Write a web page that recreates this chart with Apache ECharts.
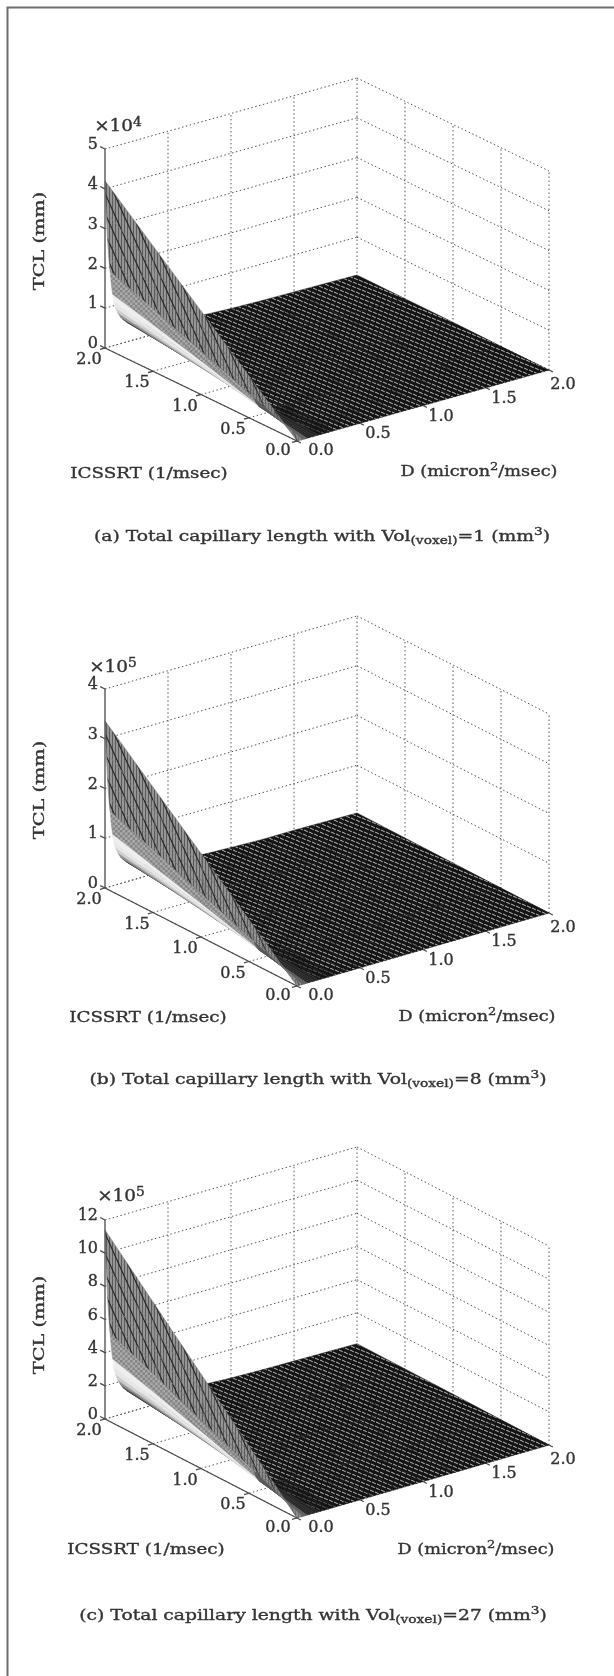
<!DOCTYPE html>
<html>
<head>
<meta charset="utf-8">
<style>html,body{margin:0;padding:0;background:#fff}#main{width:614px;height:1676px}#main canvas{filter:blur(0.55px)}</style>
<script src="https://cdn.jsdelivr.net/npm/echarts@6/dist/echarts.min.js"></script>
</head>
<body>
<div id="main"></div>
<script>
// axis ticks
var ICSSRT_TICKS = [0, 0.5, 1, 1.5, 2];
var D_TICKS = [0, 0.5, 1, 1.5, 2];
var Z_TICKS_A = [0, 1, 2, 3, 4, 5];
var Z_TICKS_B = [0, 1, 2, 3, 4];
var Z_TICKS_C = [0, 2, 4, 6, 8, 10, 12];

// surface grid
var ICSSRT_GRID = [0, 0.5, 1, 1.5, 2];
var D_GRID = [0, .01, .02, .03, .04, .05, .06, .07, .08, .1, .12, .14, .17, .2, .25, .3, .4, .5, .6, .8, 1, 1.25, 1.5, 2];

// TCL, one row per D_GRID value, one column per ICSSRT_GRID value
var TCL_A = [ // x 10^4 mm
    [0, 1.05, 2.1, 3.15, 4.2], [0, .85, 1.7, 2.55, 3.4], [0, .68, 1.35, 2.03, 2.7], [0, .56, 1.13, 1.69, 2.25],
    [0, .47, .95, 1.42, 1.9], [0, .38, .78, 1.16, 1.55], [0, .3, .65, .98, 1.3], [0, .25, .55, .83, 1.1],
    [0, .21, .47, .71, .95], [0, .17, .4, .6, .8], [0, .13, .33, .51, .68], [0, .11, .29, .45, .6],
    [0, .09, .24, .37, .5], [0, .08, .21, .32, .43], [0, .07, .17, .27, .36], [0, .06, .15, .23, .31],
    [0, .05, .12, .18, .24], [0, .04, .1, .15, .2], [0, .03, .08, .13, .17], [0, .03, .06, .1, .13],
    [0, .02, .05, .08, .1], [0, .02, .04, .06, .08], [0, .02, .03, .05, .07], [0, .01, .03, .04, .05]
];
var TCL_B = [ // x 10^5 mm
    [0, .84, 1.68, 2.52, 3.36], [0, .68, 1.36, 2.04, 2.72], [0, .54, 1.08, 1.62, 2.16], [0, .45, .9, 1.35, 1.8],
    [0, .38, .76, 1.14, 1.52], [0, .3, .62, .93, 1.24], [0, .24, .52, .78, 1.04], [0, .2, .44, .66, .88],
    [0, .17, .38, .57, .76], [0, .14, .32, .48, .64], [0, .1, .26, .41, .54], [0, .09, .23, .36, .48],
    [0, .07, .19, .3, .4], [0, .06, .17, .26, .34], [0, .06, .14, .22, .29], [0, .05, .12, .18, .25],
    [0, .04, .1, .14, .19], [0, .03, .08, .12, .16], [0, .02, .06, .1, .14], [0, .02, .05, .08, .1],
    [0, .02, .04, .06, .08], [0, .02, .03, .05, .06], [0, .02, .02, .04, .06], [0, .01, .02, .03, .04]
];
var TCL_C = [ // x 10^5 mm
    [0, 2.85, 5.7, 8.55, 11.4], [0, 2.3, 4.6, 6.9, 9.2], [0, 1.84, 3.65, 5.5, 7.3], [0, 1.5, 3.05, 4.55, 6.1],
    [0, 1.27, 2.55, 3.85, 5.1], [0, 1.03, 2.1, 3.13, 4.2], [0, .81, 1.75, 2.65, 3.5], [0, .68, 1.48, 2.24, 3],
    [0, .57, 1.27, 1.92, 2.55], [0, .46, 1.08, 1.62, 2.15], [0, .35, .89, 1.38, 1.85], [0, .3, .78, 1.22, 1.6],
    [0, .24, .65, 1, 1.35], [0, .22, .57, .86, 1.16], [0, .19, .46, .73, .97], [0, .16, .4, .62, .84],
    [0, .14, .32, .49, .65], [0, .11, .27, .4, .54], [0, .08, .22, .35, .46], [0, .08, .16, .27, .35],
    [0, .05, .14, .22, .27], [0, .05, .11, .16, .22], [0, .05, .08, .14, .19], [0, .03, .08, .11, .14]
];

var FONT = '"DejaVu Serif", serif';
var INK = '#333';
var HEAVY = 0.35; // stroke on the glyphs, source text is heavier than the regular face

// layout of each panel: front corner, axis vectors in px, text anchors
var panels = [
    {front: [297, 441], dVec: [252, -71], sVec: [-192, -93], zH: 199, zTicks: Z_TICKS_A, tcl: TCL_A, pow: '4',
     exp: [118, 127], tclY: 241, sTitle: [149, 474], dTitle: [479, 472], cap: [322, 537], capText: '(a) Total capillary length with Vol{sub|(voxel)}=1 (mm{sup|3})'},
    {front: [297, 986], dVec: [252, -73], sVec: [-192, -98], zH: 199, zTicks: Z_TICKS_B, tcl: TCL_B, pow: '5',
     exp: [113, 668], tclY: 790, sTitle: [148, 1018], dTitle: [477, 1017], cap: [318, 1080], capText: '(b) Total capillary length with Vol{sub|(voxel)}=8 (mm{sup|3})'},
    {front: [297, 1518], dVec: [252, -73], sVec: [-192, -99], zH: 199, zTicks: Z_TICKS_C, tcl: TCL_C, pow: '5',
     exp: [121, 1197], tclY: 1325, sTitle: [146, 1550], dTitle: [476, 1550], cap: [313, 1616], capText: '(c) Total capillary length with Vol{sub|(voxel)}=27 (mm{sup|3})'}
];

function tile(w, h, draw) {
    var c = document.createElement('canvas');
    c.width = w; c.height = h;
    draw(c.getContext('2d'), w, h);
    return {image: c, repeat: 'repeat'};
}
function seg(ctx, x1, y1, x2, y2, color, width) {
    ctx.strokeStyle = color; ctx.lineWidth = width;
    ctx.beginPath(); ctx.moveTo(x1, y1); ctx.lineTo(x2, y2); ctx.stroke();
}
var ridgeFill = tile(9, 20, function (ctx, w, h) {
    ctx.fillStyle = '#9c9c9c'; ctx.fillRect(0, 0, w, h);
    for (var x = 1.5; x < w; x += 3) seg(ctx, x, 0, x, h, '#5a5a5a', 1.2);
    for (var k = -1; k <= 1; k++) seg(ctx, k * w, 0, k * w + w, h, '#2a2a2a', 1.3);
});
var checkFill = tile(5, 5, function (ctx, w, h) {
    ctx.fillStyle = '#ababab'; ctx.fillRect(0, 0, w, h);
    ctx.fillStyle = '#848484'; ctx.fillRect(0, 0, 2.5, 2.5); ctx.fillRect(2.5, 2.5, 2.5, 2.5);
});
// mesh of the flat sheet: one short light dash per grid cell, on the cell lattice
function sheetTile(dash) {
    return tile(22, 22, function (ctx, w, h) {
        ctx.fillStyle = '#141414'; ctx.fillRect(0, 0, w, h);
        for (var a = -10; a <= 10; a++) {
            for (var b = -10; b <= 10; b++) {
                var x = a * 6 + b * 5, y = -a * 2 + b * 2;
                if (x > -6 && x < w && y > -4 && y < h) seg(ctx, x, y, x + 3.8, y + 1.8, dash, 1);
            }
        }
    });
}
var sheetFill = sheetTile('#bcbcbc');
var sheetDark = sheetTile('#5e5e5e');

// fill per surface cell: the light band under the ridge runs out before the front corner
function cellFill(di, si) {
    var d = D_GRID[di];
    if (d < .04) return [ridgeFill, '#777'];
    if (si === 0 && d < .08) return ['#5a5a5a', '#5a5a5a'];
    if (si === 0 && d < .17) return ['#262626', '#262626'];
    if (d < .06) return [checkFill, '#959595'];
    if (d < .07) return ['#eeeeee', '#eeeeee'];
    if (d < .08) return ['#e6e6e6', '#e6e6e6'];
    if (d < .1) return ['#cccccc', '#cccccc'];
    if (d < .12) return ['#949494', '#949494'];
    if (d < .14) return ['#5e5e5e', '#5e5e5e'];
    if (d < .17) return ['#3a3a3a', '#3a3a3a'];
    if (d < .3 && si < 1) return [sheetDark, '#141414'];
    return [sheetFill, '#141414'];
}

function makeProject(p) {
    var zMax = p.zTicks[p.zTicks.length - 1];
    return function (d, s, z) {
        return [d / 2 * p.dVec[0] + s / 2 * p.sVec[0],
                -(d / 2 * p.dVec[1] + s / 2 * p.sVec[1]) + z / zMax * p.zH];
    };
}

function lineItem(a, b, kind) { return [a[0], a[1], b[0], b[1], kind]; }

var grids = [], xAxes = [], yAxes = [], series = [], graphics = [];

panels.forEach(function (p, idx) {
    var proj = makeProject(p);
    var zMax = p.zTicks[p.zTicks.length - 1];
    grids.push({left: p.front[0] - 210, top: p.front[1] - 380, width: 480, height: 395});
    xAxes.push({gridIndex: idx, type: 'value', min: -210, max: 270, show: false});
    yAxes.push({gridIndex: idx, type: 'value', min: -15, max: 380, show: false});

    // walls and floor
    var dots = [];
    p.zTicks.forEach(function (z) {
        dots.push(lineItem(proj(0, 2, z), proj(2, 2, z), 0));
        dots.push(lineItem(proj(2, 2, z), proj(2, 0, z), 0));
    });
    D_TICKS.forEach(function (d) {
        if (d > 0) dots.push(lineItem(proj(d, 2, 0), proj(d, 2, zMax), 0));
        dots.push(lineItem(proj(d, 0, 0), proj(d, 2, 0), 0));
    });
    ICSSRT_TICKS.forEach(function (s) {
        if (s < 2) dots.push(lineItem(proj(2, s, 0), proj(2, s, zMax), 0));
        dots.push(lineItem(proj(0, s, 0), proj(2, s, 0), 0));
    });
    series.push({
        type: 'custom', xAxisIndex: idx, yAxisIndex: idx, z: 1, silent: true, data: dots,
        renderItem: renderSegment
    });

    // surface, far cells first
    var cells = [];
    for (var di = D_GRID.length - 2; di >= 0; di--) {
        for (var si = ICSSRT_GRID.length - 2; si >= 0; si--) {
            var a = proj(D_GRID[di], ICSSRT_GRID[si], p.tcl[di][si]);
            var b = proj(D_GRID[di], ICSSRT_GRID[si + 1], p.tcl[di][si + 1]);
            var c = proj(D_GRID[di + 1], ICSSRT_GRID[si + 1], p.tcl[di + 1][si + 1]);
            var e = proj(D_GRID[di + 1], ICSSRT_GRID[si], p.tcl[di + 1][si]);
            cells.push([a[0], a[1], b[0], b[1], c[0], c[1], e[0], e[1], di, si]);
        }
    }
    series.push({
        type: 'custom', xAxisIndex: idx, yAxisIndex: idx, z: 2, silent: true, data: cells,
        renderItem: function (params, api) {
            var pts = [];
            for (var i = 0; i < 4; i++) pts.push(api.coord([api.value(i * 2), api.value(i * 2 + 1)]));
            var f = cellFill(api.value(8), api.value(9));
            return {type: 'polygon', shape: {points: pts}, style: {fill: f[0], stroke: f[1], lineWidth: 0.5}};
        }
    });

    // axes and ticks
    var axes = [lineItem(proj(0, 2, 0), proj(0, 2, zMax), 1), lineItem(proj(0, 2, 0), proj(0, 0, 0), 1)];
    p.zTicks.forEach(function (z) { axes.push(lineItem(proj(0, 2, z), proj(0, 2.05, z), 1)); });
    ICSSRT_TICKS.forEach(function (s) { axes.push(lineItem(proj(0, s, 0), proj(-.04, s, 0), 1)); });
    D_TICKS.forEach(function (d) { axes.push(lineItem(proj(d, 0, 0), proj(d, -.04, 0), 1)); });
    series.push({
        type: 'custom', xAxisIndex: idx, yAxisIndex: idx, z: 3, silent: true, data: axes,
        renderItem: renderSegment
    });

    // tick labels
    var labels = [];
    p.zTicks.forEach(function (z) { var q = proj(0, 2, z); labels.push([q[0], q[1], -7, -4, String(z), 'right']); });
    ICSSRT_TICKS.forEach(function (s) { var q = proj(0, s, 0); labels.push([q[0], q[1], s === 0 ? -19 : -16, s === 0 ? 10 : 12, s.toFixed(1), 'center']); });
    D_TICKS.forEach(function (d) { var q = proj(d, 0, 0); labels.push([q[0], q[1], d === 0 ? 24 : (d === 2 ? 14 : 18), d === 2 ? 15 : (d === 0 ? 10 : 11), d.toFixed(1), 'center']); });
    series.push({
        type: 'custom', xAxisIndex: idx, yAxisIndex: idx, z: 4, silent: true, data: labels,
        dimensions: ['x', 'y', 'dx', 'dy', {name: 'text', type: 'ordinal'}, {name: 'align', type: 'ordinal'}],
        renderItem: function (params, api) {
            var item = labels[params.dataIndex];
            var at = api.coord([item[0], item[1]]);
            return {type: 'text', x: at[0] + item[2], y: at[1] + item[3],
                style: {text: item[4], font: '16px ' + FONT, fill: INK, stroke: INK, lineWidth: HEAVY, align: item[5], verticalAlign: 'middle'}};
        }
    });

    // free text; the source font is an extended face, so stretch sideways
    graphics.push(textEl(p.exp, '×10{sup|' + p.pow + '}', 16, 1.15));
    graphics.push({type: 'text', x: 40, y: p.tclY, rotation: Math.PI / 2, scaleX: 1.29,
        style: {text: 'TCL (mm)', font: '15px ' + FONT, fill: INK, stroke: INK, lineWidth: HEAVY, align: 'center', verticalAlign: 'middle'}});
    graphics.push(textEl(p.sTitle, 'ICSSRT (1/msec)', 15, 1.22));
    graphics.push(textEl(p.dTitle, 'D (micron{sup|2}/msec)', 15, 1.18));
    graphics.push(textEl(p.cap, p.capText, 15, 1.25));
});

function textEl(at, text, size, stretch) {
    var small = Math.round(size * .72) + 'px ' + FONT;
    return {type: 'text', x: at[0], y: at[1], scaleX: stretch, style: {
        text: text, font: size + 'px ' + FONT, fill: INK, stroke: INK, lineWidth: HEAVY, align: 'center', verticalAlign: 'middle',
        rich: {
            sub: {font: small, fill: INK, stroke: INK, lineWidth: HEAVY, verticalAlign: 'bottom', lineHeight: 20},
            sup: {font: small, fill: INK, stroke: INK, lineWidth: HEAVY, verticalAlign: 'top', lineHeight: 20}
        }
    }};
}

function renderSegment(params, api) {
    var a = api.coord([api.value(0), api.value(1)]);
    var b = api.coord([api.value(2), api.value(3)]);
    var solid = api.value(4) === 1;
    return {type: 'line', shape: {x1: a[0], y1: a[1], x2: b[0], y2: b[1]},
        style: solid ? {stroke: '#4a4a4a', lineWidth: 1.3} : {stroke: '#555', lineWidth: 1, lineDash: [1.5, 2.5]}};
}

// page frame
graphics.push({type: 'polyline', shape: {points: [[7.5, 1676], [7.5, 7.5], [614, 7.5]]}, style: {stroke: '#6e6e6e', lineWidth: 2, fill: null}});

var chart = echarts.init(document.getElementById('main'));
chart.setOption({
    animation: false,
    backgroundColor: '#fff',
    grid: grids, xAxis: xAxes, yAxis: yAxes, series: series,
    graphic: graphics
});
</script>
</body>
</html>
